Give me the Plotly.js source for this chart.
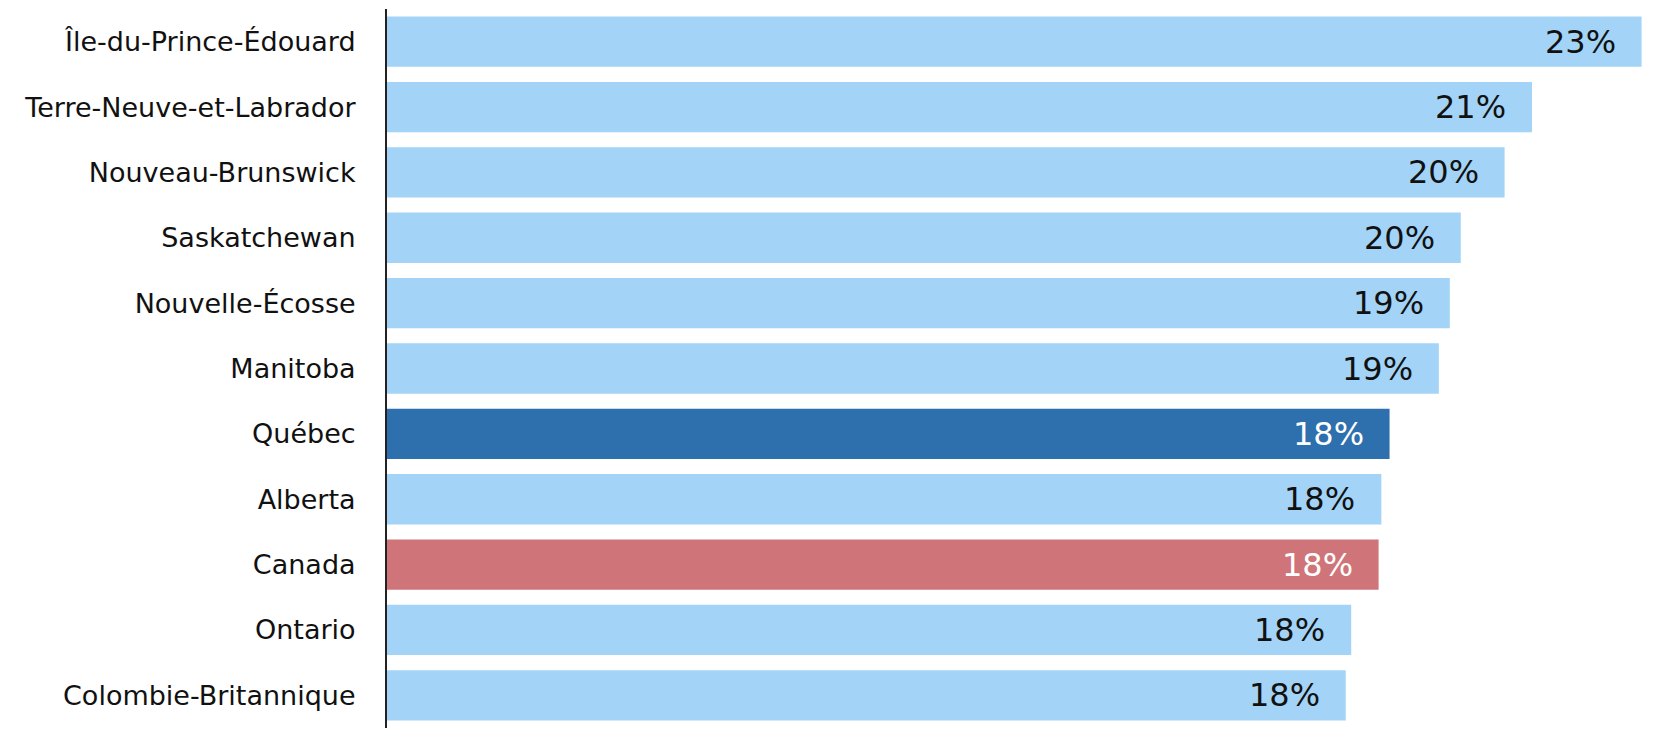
<!DOCTYPE html>
<html><head><meta charset="utf-8">
<script src="https://cdn.plot.ly/plotly-3.0.1.min.js"></script>
<style>html,body{margin:0;padding:0;background:#fff}#c{width:1662px;height:738px}</style>
</head><body><div id="c"></div>
<script>
const provinces = ["Île-du-Prince-Édouard","Terre-Neuve-et-Labrador","Nouveau-Brunswick","Saskatchewan","Nouvelle-Écosse","Manitoba","Québec","Alberta","Canada","Ontario","Colombie-Britannique"];
const values = [22.9, 20.9, 20.4, 19.6, 19.4, 19.2, 18.3, 18.15, 18.1, 17.6, 17.5];
const barColors = ["#a3d4f7","#a3d4f7","#a3d4f7","#a3d4f7","#a3d4f7","#a3d4f7","#2e70ad","#a3d4f7","#cf7579","#a3d4f7","#a3d4f7"];
const textColors = ["#111","#111","#111","#111","#111","#111","#fff","#111","#fff","#111","#111"];
const labels = values.map(v => Math.round(v) + "%");

const trace = {
  type: "bar", orientation: "h",
  x: values, y: provinces,
  marker: {color: barColors},
  hoverinfo: "none"
};
const annotations = values.map((v, i) => ({
  x: v, y: provinces[i], xref: "x", yref: "y",
  text: labels[i], showarrow: false, xanchor: "right", xshift: -24,
  font: {family: "'DejaVu Sans', sans-serif", size: 32, color: textColors[i]}
}));
const layout = {
  width: 1662, height: 738,
  margin: {l: 387, r: 4, t: 9, b: 10},
  paper_bgcolor: "#fff", plot_bgcolor: "#fff",
  bargap: 0.23,
  showlegend: false,
  xaxis: {range: [0, 23.2], visible: false, fixedrange: true},
  yaxis: {
    autorange: "reversed", type: "category",
    showline: true, linecolor: "#222", linewidth: 2,
    ticks: "", ticklabelstandoff: 24, showgrid: false, zeroline: false,
    tickfont: {family: "'DejaVu Sans', sans-serif", size: 27, color: "#111"}
  },
  annotations: annotations
};
Plotly.newPlot("c", [trace], layout, {displayModeBar: false, staticPlot: true});
</script></body></html>
